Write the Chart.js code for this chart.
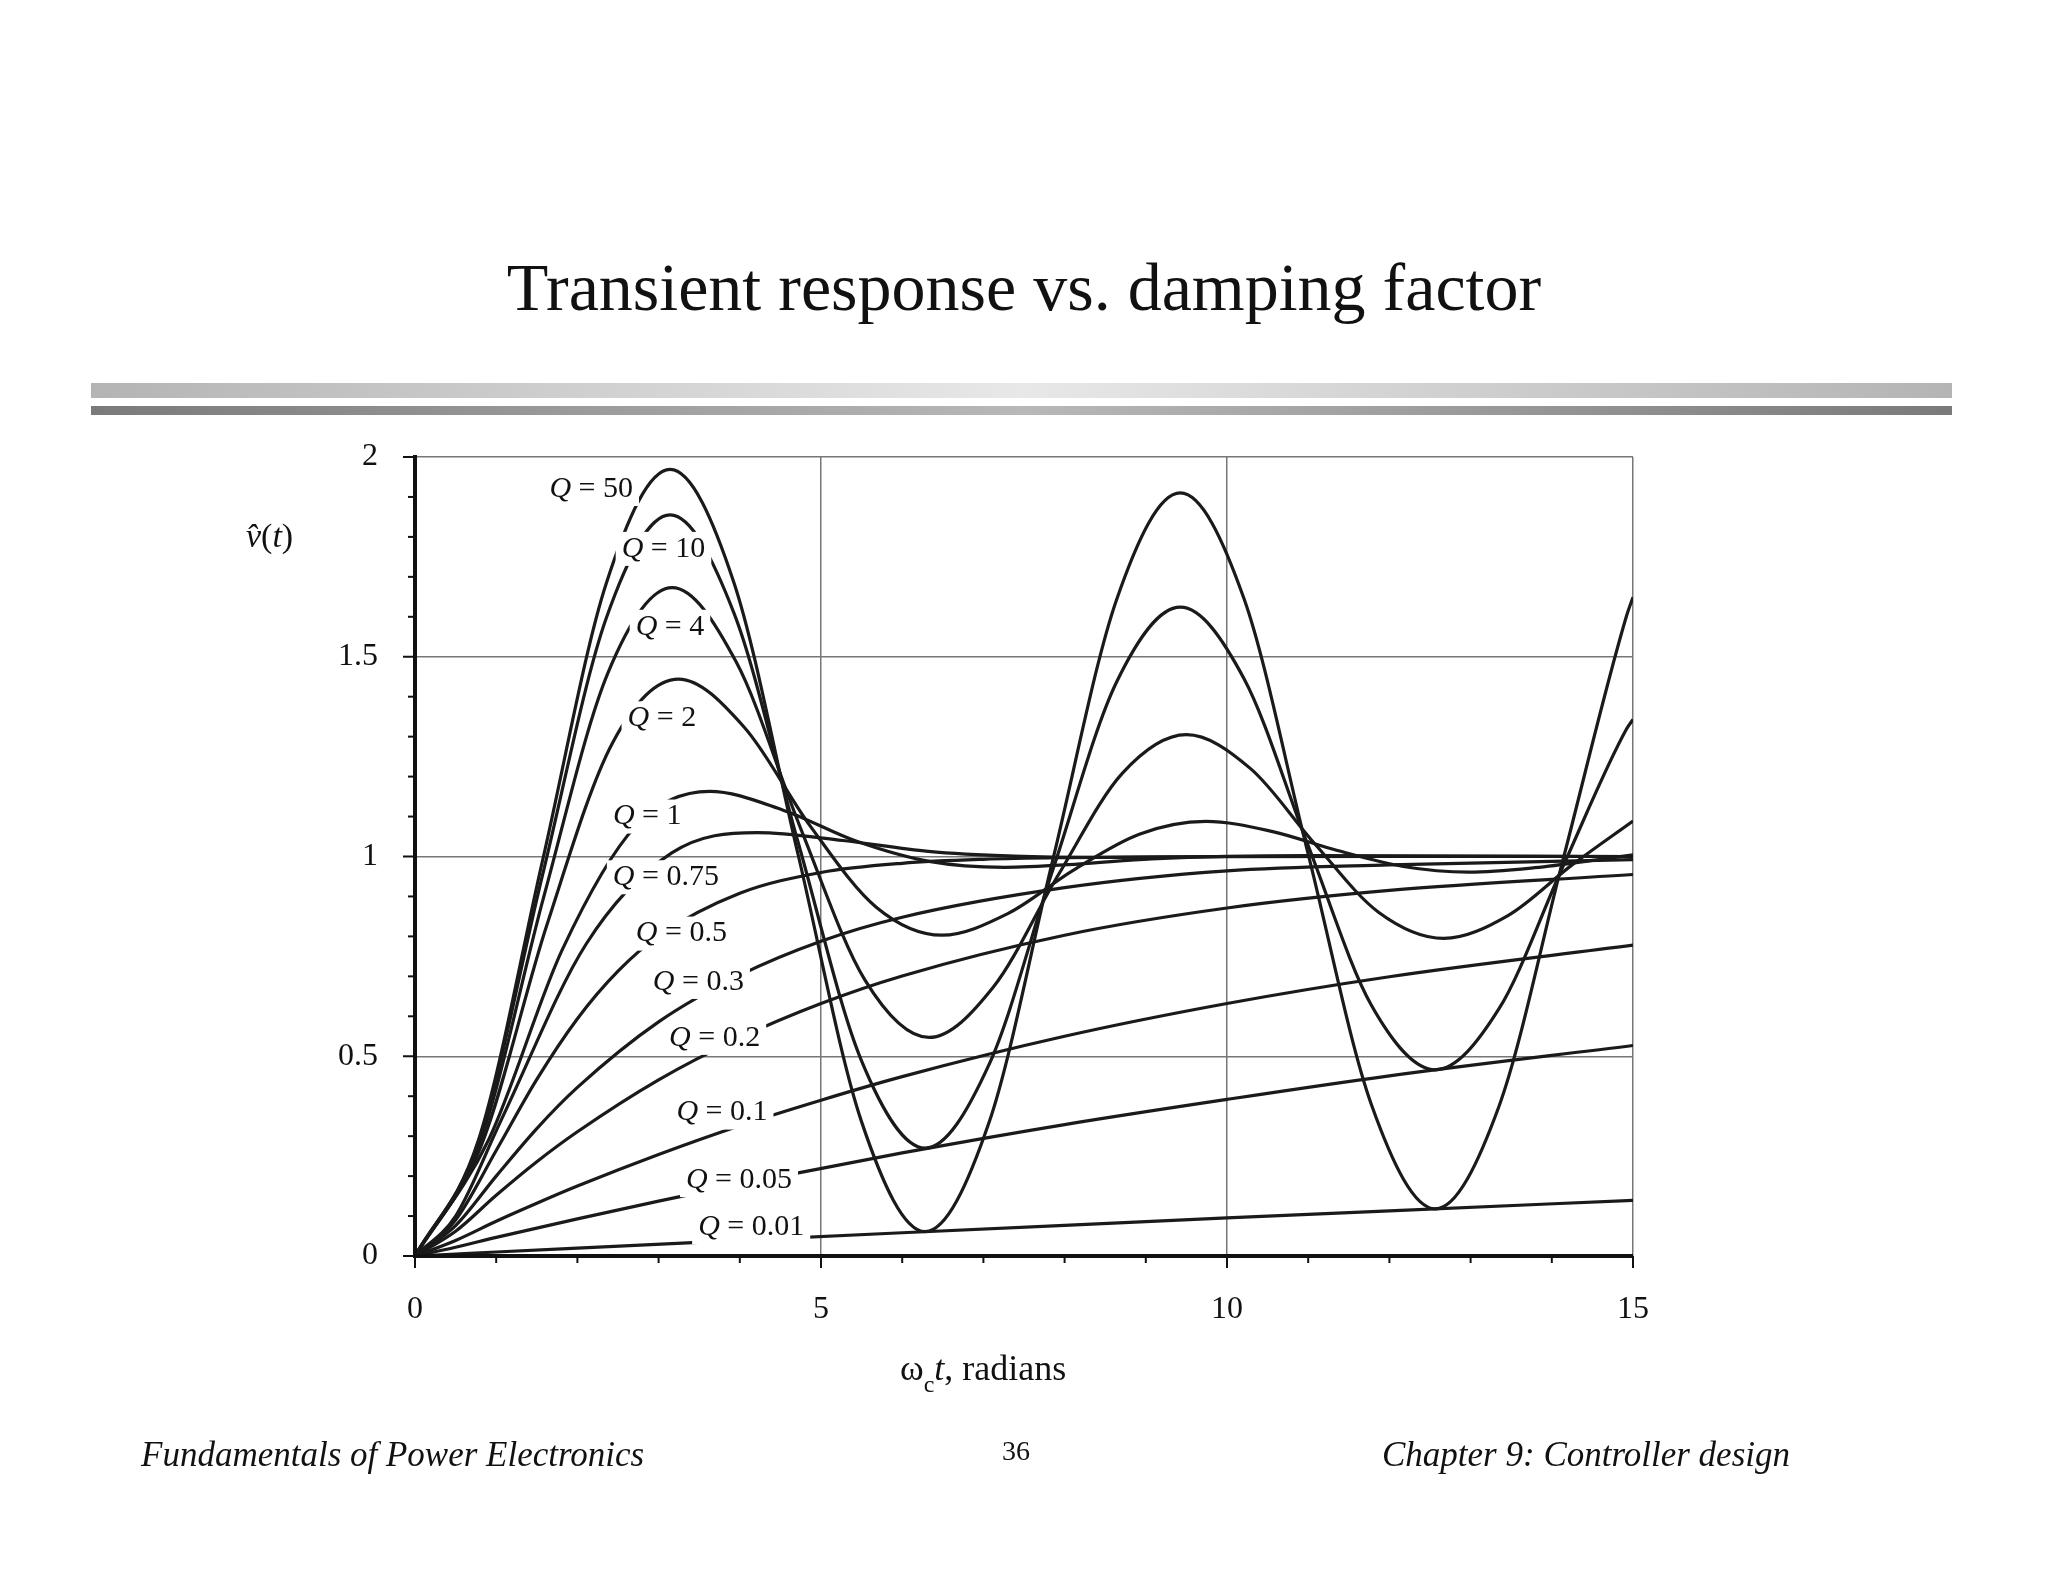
<!DOCTYPE html>
<html><head><meta charset="utf-8">
<script src="https://cdn.jsdelivr.net/npm/chart.js@4/dist/chart.umd.min.js"></script>
<style>html,body{margin:0;padding:0;background:#fff}#c{display:block}</style>
</head><body>
<canvas id="c" width="2048" height="1582"></canvas>
<script>
const qLabels = ["50","10","4","2","1","0.75","0.5","0.3","0.2","0.1","0.05","0.01"];
const xTicks = [0,5,10,15];
const yTicks = [0,0.5,1,1.5,2];

const t50 = [0,0.785,1.571,2.356,3.142,3.927,4.712,5.498,6.283,7.069,7.854,8.639,9.425,10.21,10.996,11.78,12.566,13.35,14.137,14.92,15];
const v50 = [0,0.292,0.990,1.684,1.969,1.686,1.010,0.337,0.061,0.334,0.991,1.642,1.910,1.645,1.009,0.378,0.118,0.375,0.991,1.602,1.649];
const t10 = t50;
const v10 = [0,0.287,0.954,1.597,1.855,1.610,1.040,0.489,0.270,0.479,0.966,1.436,1.624,1.445,1.029,0.627,0.466,0.619,0.975,1.319,1.343];
const t4 = [0,0.792,1.583,2.375,3.167,3.958,4.75,5.54,6.33,7.125,7.92,8.71,9.50,10.29,11.08,11.87,12.67,13.46,14.25,15];
const v4 = [0,0.279,0.897,1.459,1.673,1.486,1.070,0.691,0.547,0.674,0.953,1.208,1.305,1.220,1.032,0.860,0.795,0.852,0.979,1.089];
const t2 = [0,0.811,1.623,2.434,3.245,4.057,4.868,5.68,6.49,7.30,8.11,8.92,9.74,10.55,11.36,12.17,12.98,13.79,14.6,15];
const v2 = [0,0.274,0.828,1.285,1.444,1.323,1.076,0.873,0.803,0.857,0.966,1.056,1.088,1.063,1.015,0.975,0.961,0.972,0.993,1.004];
const t1 = [0,0.907,1.814,2.721,3.628,4.534,5.44,6.35,7.26,8.16,9.07,11,15];
const v1 = [0,0.291,0.767,1.077,1.163,1.116,1.038,0.987,0.973,0.981,0.994,1.002,1.0];
const t075 = [0,0.5,1.054,2.108,3.162,4.216,5.27,6.32,7.38,8.43,10,15];
const v075 = [0,0.100,0.337,0.781,1.009,1.060,1.040,1.013,1.001,0.998,1.0,1.0];
const t05 = [0,0.5,1,1.5,2,2.5,3,4,5,6,7,8,10,12,15];
const v05 = [0,0.090,0.264,0.442,0.594,0.713,0.801,0.908,0.960,0.983,0.993,0.997,0.9995,1.0,1.0];
const t03 = [0,0.5,1,1.5,2,3,4,5,6,8,10,12,15];
const v03 = [0,0.076,0.200,0.319,0.422,0.586,0.703,0.788,0.848,0.922,0.964,0.979,0.992];
const t02 = [0,0.5,1,1.5,2,3,4,5,6,8,10,12,15];
const v02 = [0,0.062,0.152,0.236,0.311,0.441,0.546,0.632,0.701,0.803,0.871,0.915,0.955];
const t01 = [0,0.5,1,1.5,2,3,4,5,6,8,10,12,15];
const v01 = [0,0.039,0.087,0.132,0.175,0.254,0.326,0.390,0.449,0.550,0.632,0.699,0.778];
const t005 = [0,0.5,1,2,3,4,6,8,10,12,15];
const v005 = [0,0.022,0.0465,0.093,0.1375,0.180,0.258,0.329,0.392,0.451,0.527];
const t001 = [0,0.5,1,2,4,6,8,10,12,15];
const v001 = [0,0.005,0.010,0.0198,0.0392,0.0582,0.0769,0.0952,0.1131,0.1393];

const allT = [t50,t10,t4,t2,t1,t075,t05,t03,t02,t01,t005,t001];
const allV = [v50,v10,v4,v2,v1,v075,v05,v03,v02,v01,v005,v001];

// label anchor (data units) for each Q label
const labelX = [2.17,3.06,3.14,3.04,2.86,3.09,3.28,3.49,3.69,3.78,3.99,4.14];
const labelY = [1.92,1.77,1.575,1.346,1.10,0.948,0.807,0.686,0.546,0.359,0.190,0.072];

const datasets = allT.map((ts,i)=>({
  label:'Q = '+qLabels[i],
  data: ts.map((x,j)=>({x:x,y:allV[i][j]})),
  borderColor:'#1a1a1a', borderWidth:3.2, pointRadius:0,
  cubicInterpolationMode:'monotone', fill:false
}));

const SERIF = '"Liberation Serif","DejaVu Serif",serif';

const deco = {
  id:'deco',
  beforeDraw(chart){
    const ctx = chart.ctx;
    ctx.save();
    ctx.fillStyle='#fff'; ctx.fillRect(0,0,chart.width,chart.height);
    // header bars
    let g = ctx.createLinearGradient(91,0,1952,0);
    g.addColorStop(0,'#b4b4b4'); g.addColorStop(0.5,'#e8e8e8'); g.addColorStop(1,'#b4b4b4');
    ctx.fillStyle=g; ctx.fillRect(91,383,1861,15);
    g = ctx.createLinearGradient(91,0,1952,0);
    g.addColorStop(0,'#7a7a7a'); g.addColorStop(0.5,'#b8b8b8'); g.addColorStop(1,'#7a7a7a');
    ctx.fillStyle=g; ctx.fillRect(91,406,1861,9);
    ctx.restore();
  },
  afterDatasetsDraw(chart){
    const ctx = chart.ctx, xs = chart.scales.x, ys = chart.scales.y, a = chart.chartArea;
    ctx.save();
    // axes
    ctx.strokeStyle='#111'; ctx.lineWidth=4;
    ctx.beginPath(); ctx.moveTo(a.left,a.top-2); ctx.lineTo(a.left,a.bottom); ctx.lineTo(a.right,a.bottom); ctx.stroke();
    // minor ticks
    ctx.lineWidth=2;
    for(let k=0;k<=20;k++){ const y=ys.getPixelForValue(k/10); const len = k%5===0?12:7;
      ctx.beginPath(); ctx.moveTo(a.left-len,y); ctx.lineTo(a.left,y); ctx.stroke(); }
    for(let k=0;k<=15;k++){ const x=xs.getPixelForValue(k); const len = k%5===0?12:7;
      ctx.beginPath(); ctx.moveTo(x,a.bottom); ctx.lineTo(x,a.bottom+len); ctx.stroke(); }
    // Q labels
    for(let i=0;i<qLabels.length;i++){
      const px = xs.getPixelForValue(labelX[i]), py = ys.getPixelForValue(labelY[i]);
      ctx.font = 'italic 30px '+SERIF; const w1 = ctx.measureText('Q').width;
      ctx.font = '30px '+SERIF; const rest = ' = '+qLabels[i]; const w2 = ctx.measureText(rest).width;
      const w = w1+w2, x0 = px - w/2;
      ctx.fillStyle='#fff'; ctx.fillRect(x0-6, py-17, w+12, 34);
      ctx.fillStyle='#111'; ctx.textBaseline='middle'; ctx.textAlign='left';
      ctx.font = 'italic 30px '+SERIF; ctx.fillText('Q', x0, py);
      ctx.font = '30px '+SERIF; ctx.fillText(rest, x0+w1, py);
    }
    // tick labels
    ctx.fillStyle='#111'; ctx.font='32px '+SERIF;
    ctx.textAlign='right'; ctx.textBaseline='middle';
    yTicks.forEach(v=>ctx.fillText(String(v), 378, ys.getPixelForValue(v)));
    ctx.textAlign='center'; ctx.textBaseline='top';
    xTicks.forEach(v=>ctx.fillText(String(v), xs.getPixelForValue(v), 1294));
    // axis titles
    ctx.font='36px '+SERIF; ctx.textBaseline='alphabetic'; ctx.textAlign='left';
    let x = 900; ctx.fillText('ω', x, 1380); x += ctx.measureText('ω').width;
    ctx.font='24px '+SERIF; ctx.fillText('c', x, 1392); x += ctx.measureText('c').width;
    ctx.font='italic 36px '+SERIF; ctx.fillText('t', x, 1380); x += ctx.measureText('t').width;
    ctx.font='36px '+SERIF; ctx.fillText(', radians', x, 1380);
    // y label v̂(t)
    x = 246;
    ctx.font='italic 34px '+SERIF; ctx.fillText('v\u0302', x, 547); x+=ctx.measureText('v\u0302').width;
    ctx.font='34px '+SERIF; ctx.fillText('(', x, 547); x+=ctx.measureText('(').width;
    ctx.font='italic 34px '+SERIF; ctx.fillText('t', x, 547); x+=ctx.measureText('t').width;
    ctx.font='34px '+SERIF; ctx.fillText(')', x, 547);
    // title
    ctx.textAlign='center'; ctx.font='68px '+SERIF;
    ctx.fillText('Transient response vs. damping factor', 1024, 310);
    // footer
    ctx.font='italic 35px '+SERIF; ctx.textAlign='left';
    ctx.fillText('Fundamentals of Power Electronics', 141, 1466);
    ctx.textAlign='right'; ctx.fillText('Chapter 9: Controller design', 1790, 1466);
    ctx.font='28px '+SERIF; ctx.textAlign='center'; ctx.fillText('36', 1016, 1460);
    ctx.restore();
  }
};

new Chart(document.getElementById('c'), {
  type:'line',
  data:{datasets},
  options:{
    responsive:false, animation:false,
    layout:{padding:{left:415,right:415,top:457,bottom:326}},
    plugins:{legend:{display:false},tooltip:{enabled:false},title:{display:false}},
    scales:{
      x:{type:'linear',min:0,max:15,
        ticks:{display:false,stepSize:5},
        grid:{color:'#777',lineWidth:1.5,drawTicks:false},border:{display:false}},
      y:{type:'linear',min:0,max:2,
        ticks:{display:false,stepSize:0.5},
        grid:{color:'#777',lineWidth:1.5,drawTicks:false},border:{display:false}}
    }
  },
  plugins:[deco]
});
</script>
</body></html>
